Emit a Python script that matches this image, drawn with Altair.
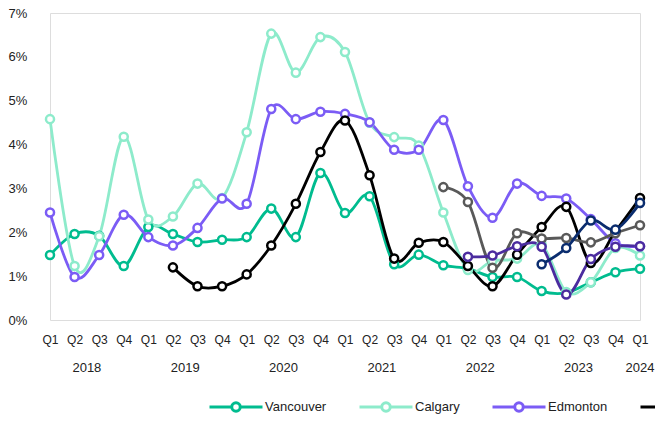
import altair as alt
import pandas as pd

# ---- data (index 0 = 2018 Q1 ... 24 = 2024 Q1) ----
quarters = ["Q1", "Q2", "Q3", "Q4"] * 6 + ["Q1"]
years = ["2018", "2019", "2020", "2021", "2022", "2023", "2024"]
year_pos = [1.5, 5.5, 9.5, 13.5, 17.5, 21.5, 24]

series_names = ["Vancouver", "Calgary", "Edmonton", "Toronto", "Ottawa", "Montréal", "Halifax"]
colors = ["#00BC8F", "#8DEBCB", "#7B5CF5", "#000000", "#595959", "#4B2C9F", "#0A2C6E"]

vancouver = [1.48, 1.96, 1.92, 1.23, 2.12, 1.96, 1.78, 1.83, 1.89, 2.54, 1.89, 3.35,
             2.44, 2.82, 1.27, 1.49, 1.25, 1.17, 0.98, 0.98, 0.66, 0.62, 0.86, 1.09, 1.17]
calgary = [4.58, 1.23, 1.91, 4.18, 2.29, 2.36, 3.11, 2.78, 4.28, 6.53, 5.64, 6.45,
           6.11, 4.50, 4.17, 3.98, 2.45, 1.14, 1.35, 1.40, 1.72, 0.64, 0.86, 1.64, 1.47]
edmonton = [2.45, 0.98, 1.48, 2.40, 1.89, 1.70, 2.10, 2.77, 2.65, 4.81, 4.58, 4.75,
            4.70, 4.51, 3.88, 3.88, 4.56, 3.05, 2.33, 3.11, 2.83, 2.77, 2.30, 1.75, 1.68]
toronto = [None, None, None, None, None, 1.20, 0.77, 0.77, 1.04, 1.70, 2.65, 3.83,
           4.55, 3.30, 1.40, 1.76, 1.78, 1.23, 0.77, 1.49, 2.12, 2.58, 1.30, 2.02, 2.78]
ottawa = [None] * 16 + [3.03, 2.69, 1.19, 1.98, 1.86, 1.87, 1.77, 1.98, 2.16]
montreal = [None] * 17 + [1.44, 1.47, 1.68, 1.67, 0.58, 1.39, 1.67, 1.68]
halifax = [None] * 20 + [1.27, 1.64, 2.27, 2.06, 2.67]

all_series = [vancouver, calgary, edmonton, toronto, ottawa, montreal, halifax]

rows = []
for name, vals in zip(series_names, all_series):
    for i, v in enumerate(vals):
        if v is not None:
            rows.append({"series": name, "idx": i, "value": v})
df = pd.DataFrame(rows)
year_df = pd.DataFrame({"year": years, "pos": year_pos})

FONT = "Liberation Sans"
quarter_expr = "[" + ",".join("'%s'" % q for q in quarters) + "][datum.value]"
legend_path = ("M-1,0H-0.16M0.16,0H1M0.16,0A0.16,0.16,0,1,1,-0.16,0"
               "A0.16,0.16,0,1,1,0.16,0Z")

x_scale = alt.Scale(domain=[0, 24], nice=False, zero=False)
x_axis = alt.Axis(values=list(range(25)), tickCount=25, labelExpr=quarter_expr, title=None,
                  grid=False, domain=False, ticks=False, tickSize=0, labelPadding=14,
                  labelFontSize=12, labelColor="#222222", labelFont=FONT,
                  labelFlush=False, labelOverlap=False, labelSeparation=0,
                  labelBound=False)
x_enc = alt.X("idx:Q", scale=x_scale, axis=x_axis)
y_enc = alt.Y(
    "value:Q",
    scale=alt.Scale(domain=[0, 7], nice=False),
    axis=alt.Axis(values=list(range(8)), labelExpr="datum.value + '%'", title=None,
                  grid=False, domain=False, ticks=False, tickSize=0, labelAlign="left",
                  labelPadding=42, labelFontSize=13, labelColor="#222222",
                  labelFont=FONT, labelBaseline="middle"),
)
color_enc = alt.Color(
    "series:N",
    scale=alt.Scale(domain=series_names, range=colors),
    legend=alt.Legend(title=None, orient="none", legendX=158, legendY=366,
                      direction="horizontal", columns=7, gridAlign="none",
                      symbolType=legend_path,
                      symbolSize=2809, symbolStrokeWidth=3, symbolFillColor="white",
                      labelFontSize=13, labelOffset=1, columnPadding=26, padding=0,
                      labelColor="#222222", labelFont=FONT),
)

lines = alt.Chart(df).mark_line(interpolate="cardinal", strokeWidth=2.8).encode(
    x=x_enc, y=y_enc, color=color_enc, detail="series:N"
)
points = alt.Chart(df).mark_point(filled=False, fill="white", fillOpacity=1, opacity=1,
                                  size=65, strokeWidth=2.5).encode(
    x=x_enc, y=y_enc, color=color_enc
)
year_text = alt.Chart(year_df).mark_text(fontSize=13, color="#222222", font=FONT,
                                         baseline="middle").encode(
    x=alt.X("pos:Q", scale=x_scale, axis=x_axis), y=alt.value(355), text="year:N"
)

chart = alt.layer(lines, points, year_text).properties(
    width=590, height=307,
    padding={"left": 42, "top": 5, "right": 15, "bottom": 95},
    autosize=alt.AutoSizeParams(type="none"),
).configure_view(stroke=None).configure(font=FONT)

chart.save("out.html", embed_options={"renderer": "svg", "actions": False})
